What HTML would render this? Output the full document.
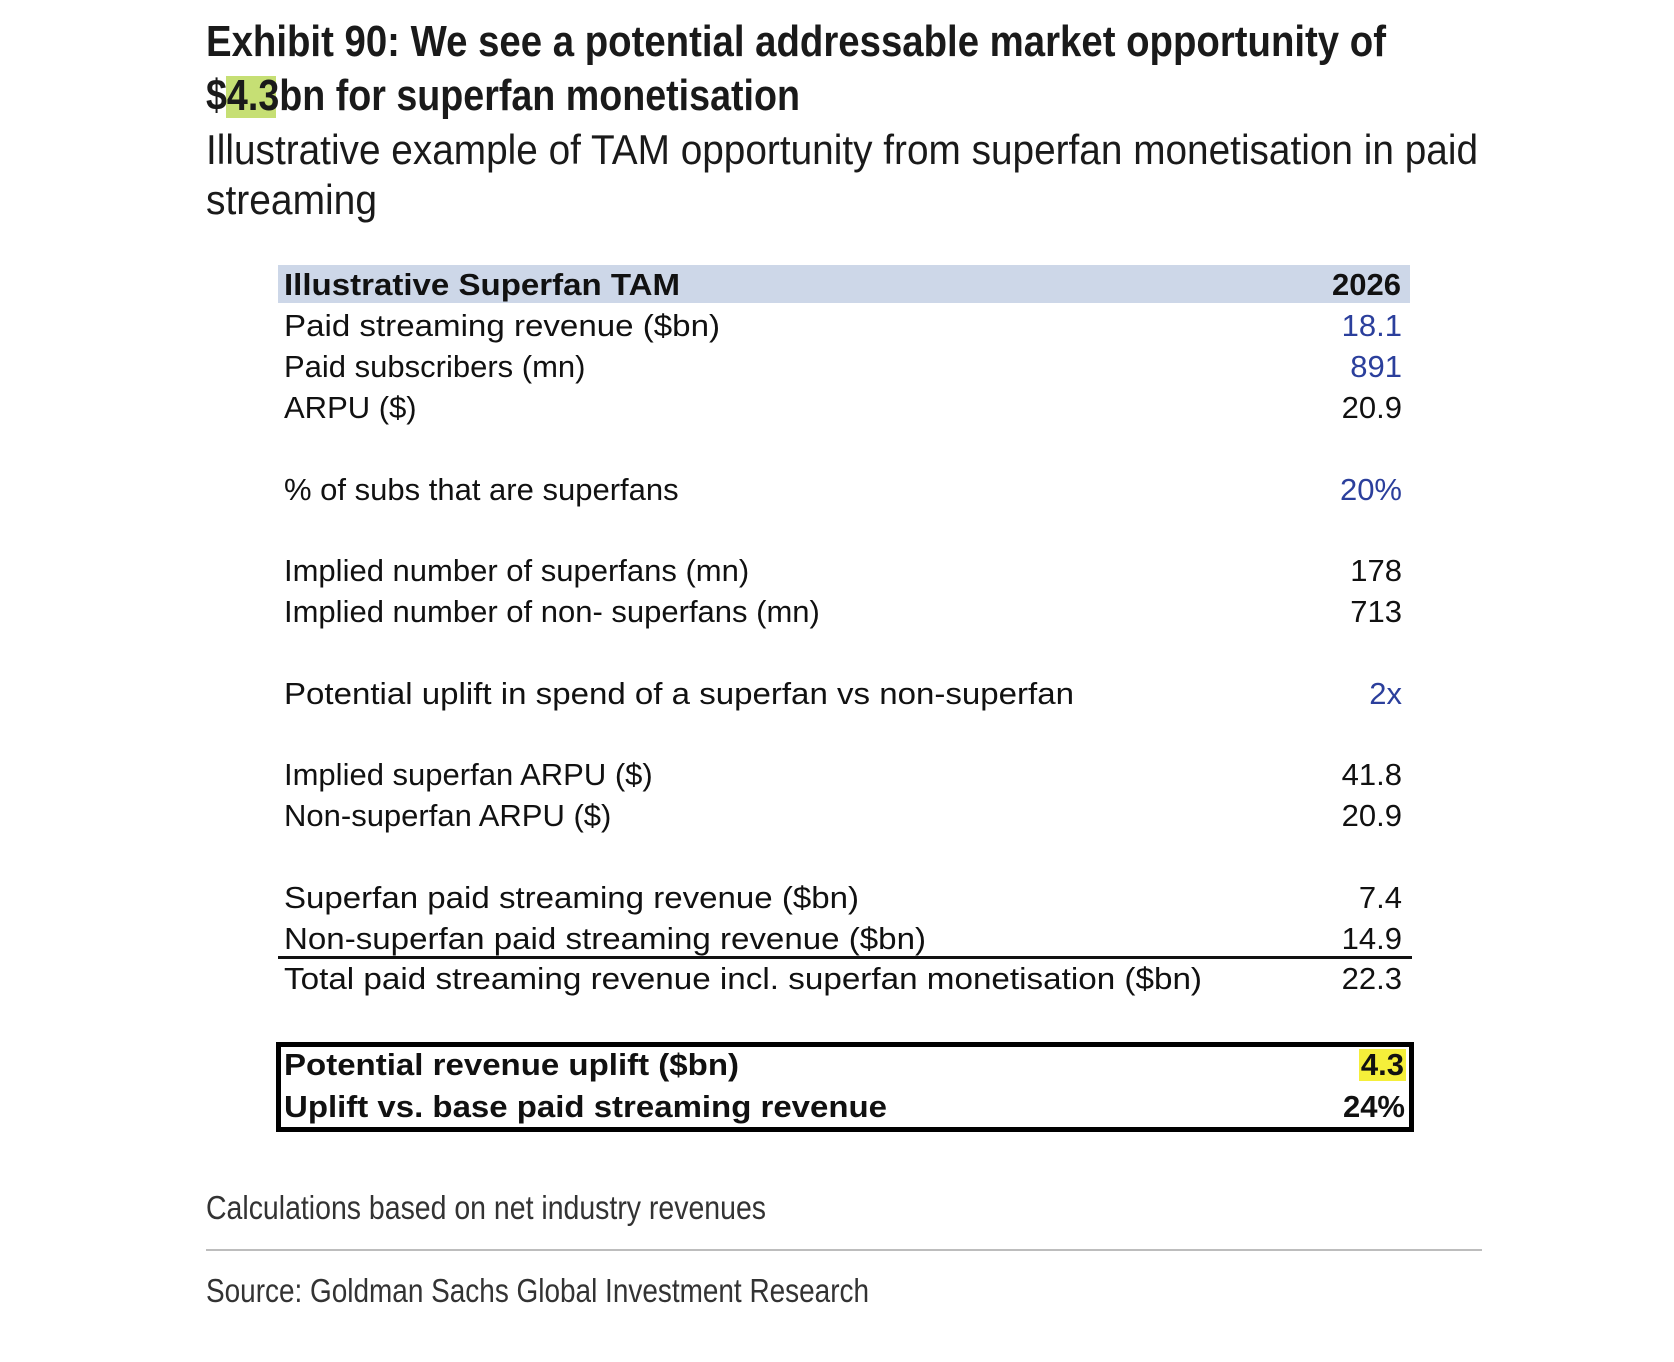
<!DOCTYPE html>
<html><head><meta charset="utf-8"><style>
html,body{margin:0;padding:0;background:#fff;}
svg{display:block;}
text{font-family:"Liberation Sans",Arial,sans-serif;}
</style></head><body>
<svg width="1674" height="1362" viewBox="0 0 1674 1362" xmlns="http://www.w3.org/2000/svg">
<rect width="1674" height="1362" fill="#fff"/>
<!-- title -->
<rect x="226" y="76" width="50" height="42" fill="#c6df74"/>
<text x="206" y="56" font-size="44" font-weight="bold" fill="#1a1a1a" textLength="1180" lengthAdjust="spacingAndGlyphs">Exhibit 90: We see a potential addressable market opportunity of</text>
<text x="206" y="110" font-size="44" font-weight="bold" fill="#1a1a1a" textLength="594" lengthAdjust="spacingAndGlyphs">$4.3bn for superfan monetisation</text>
<text x="206" y="164" font-size="42" fill="#1a1a1a" textLength="1272" lengthAdjust="spacingAndGlyphs">Illustrative example of TAM opportunity from superfan monetisation in paid</text>
<text x="206" y="214" font-size="42" fill="#1a1a1a" textLength="171" lengthAdjust="spacingAndGlyphs">streaming</text>
<!-- table header -->
<rect x="278" y="265" width="1132" height="38" fill="#cdd7e8"/>
<g font-size="31" fill="#111">
<text x="284" y="295" font-weight="bold" textLength="396" lengthAdjust="spacingAndGlyphs">Illustrative Superfan TAM</text>
<text x="1401" y="295" font-weight="bold" text-anchor="end">2026</text>
<text x="284" y="336" textLength="436" lengthAdjust="spacingAndGlyphs">Paid streaming revenue ($bn)</text>
<text x="1402" y="336" text-anchor="end" fill="#2b3f9c">18.1</text>
<text x="284" y="377">Paid subscribers (mn)</text>
<text x="1402" y="377" text-anchor="end" fill="#2b3f9c">891</text>
<text x="284" y="418">ARPU ($)</text>
<text x="1402" y="418" text-anchor="end">20.9</text>
<text x="284" y="500">% of subs that are superfans</text>
<text x="1402" y="500" text-anchor="end" fill="#2b3f9c">20%</text>
<text x="284" y="581">Implied number of superfans (mn)</text>
<text x="1402" y="581" text-anchor="end">178</text>
<text x="284" y="622">Implied number of non- superfans (mn)</text>
<text x="1402" y="622" text-anchor="end">713</text>
<text x="284" y="704" textLength="790" lengthAdjust="spacingAndGlyphs">Potential uplift in spend of a superfan vs non-superfan</text>
<text x="1402" y="704" text-anchor="end" fill="#2b3f9c">2x</text>
<text x="284" y="785">Implied superfan ARPU ($)</text>
<text x="1402" y="785" text-anchor="end">41.8</text>
<text x="284" y="826">Non-superfan ARPU ($)</text>
<text x="1402" y="826" text-anchor="end">20.9</text>
<text x="284" y="908" textLength="575" lengthAdjust="spacingAndGlyphs">Superfan paid streaming revenue ($bn)</text>
<text x="1402" y="908" text-anchor="end">7.4</text>
<text x="284" y="949" textLength="642" lengthAdjust="spacingAndGlyphs">Non-superfan paid streaming revenue ($bn)</text>
<text x="1402" y="949" text-anchor="end">14.9</text>
<text x="284" y="989" textLength="918" lengthAdjust="spacingAndGlyphs">Total paid streaming revenue incl. superfan monetisation ($bn)</text>
<text x="1402" y="989" text-anchor="end">22.3</text>
</g>
<rect x="278" y="956" width="1134" height="3" fill="#111"/>
<!-- box -->
<rect x="1359" y="1049" width="47" height="32" fill="#f5ef3a"/>
<rect x="278.5" y="1044.5" width="1133" height="85" fill="none" stroke="#000" stroke-width="5"/>
<g font-size="31" fill="#111" font-weight="bold">
<text x="284" y="1075" textLength="455" lengthAdjust="spacingAndGlyphs">Potential revenue uplift ($bn)</text>
<text x="1404" y="1075" text-anchor="end">4.3</text>
<text x="284" y="1117" textLength="603" lengthAdjust="spacingAndGlyphs">Uplift vs. base paid streaming revenue</text>
<text x="1405" y="1117" text-anchor="end">24%</text>
</g>
<!-- footer -->
<text x="206" y="1219" font-size="33" fill="#333" textLength="560" lengthAdjust="spacingAndGlyphs">Calculations based on net industry revenues</text>
<rect x="206" y="1249" width="1276" height="2" fill="#bdbdbd"/>
<text x="206" y="1302" font-size="33" fill="#333" textLength="663" lengthAdjust="spacingAndGlyphs">Source: Goldman Sachs Global Investment Research</text>
</svg>
</body></html>
